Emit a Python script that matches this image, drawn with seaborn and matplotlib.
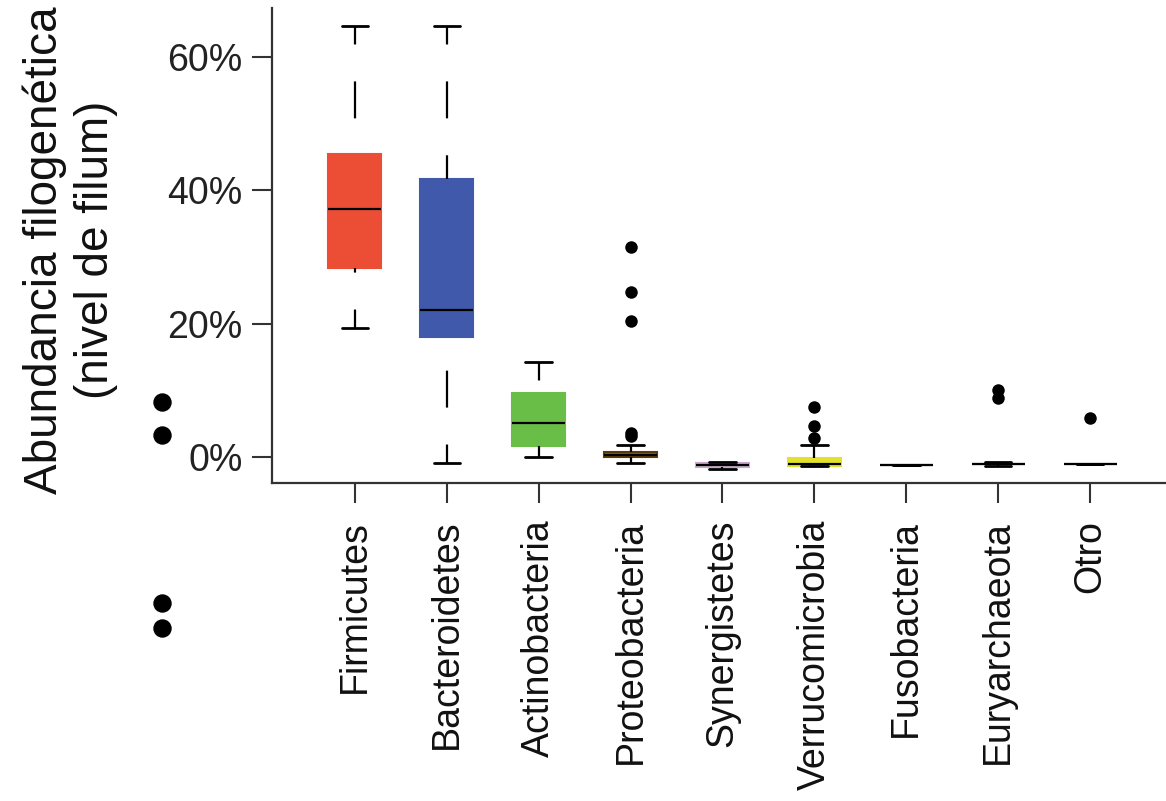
import numpy as np
import pandas as pd
import matplotlib
matplotlib.use("Agg")
import matplotlib.pyplot as plt
import seaborn as sns

# ---------------- data (values in %) ----------------
phyla = ["Firmicutes", "Bacteroidetes", "Actinobacteria", "Proteobacteria",
         "Synergistetes", "Verrucomicrobia", "Fusobacteria", "Euryarchaeota", "Otro"]
whisker_low = [19.3, -0.9, 0.0, -0.9, -1.8, -1.35, -1.2, -1.3, -1.05]
q1          = [28.3, 18.0, 1.7, 0.0, -1.5, -1.35, -1.2, -1.0, -1.05]
median      = [37.2, 22.1, 5.1, 0.3, -1.2, -1.05, -1.2, -1.0, -1.05]
q3          = [45.5, 41.7, 9.6, 0.75, -0.9, -0.15, -1.2, -1.0, -1.05]
whisker_high = [64.7, 64.7, 14.3, 1.8, -0.7, 1.8, -1.2, -0.7, -1.05]
outlier_phylum = ["Proteobacteria"] * 5 + ["Verrucomicrobia"] * 3 + ["Euryarchaeota"] * 2 + ["Otro"]
outlier_value = [31.5, 24.75, 20.4, 3.6, 3.1, 7.5, 4.6, 2.8, 10.0, 8.9, 5.8]
# stray points drawn left of the axis in the original
stray_x = [-2.1, -2.1, -2.1, -2.1]
stray_y = [8.2, 3.3, -21.9, -25.6]
yticks = [0, 20, 40, 60]
ytick_labels = ["0%", "20%", "40%", "60%"]

# ---------------- styles ----------------
face_colors = ["#EC4D35", "#4159AB", "#69BE48", "#8A6016", "#C9A8CC",
               "#E2E22C", "#5E6A6A", "#555555", "#6F7878"]
edge_colors = ["#EC4D35", "#4159AB", "#69BE48", "#5A3C0A", "#C9A8CC",
               "#E2E22C", "#4A5656", "#333333", "#5A6464"]

sns.set_style("ticks")
plt.rcParams["font.family"] = ["Liberation Sans", "DejaVu Sans"]
plt.rcParams["lines.scale_dashes"] = False

rows = []
for i, p in enumerate(phyla):
    for v in (whisker_low[i], q1[i], median[i], q3[i], whisker_high[i]):
        rows.append({"phylum": p, "value": v})
df = pd.DataFrame(rows)
out_df = pd.DataFrame({"phylum": outlier_phylum, "value": outlier_value})

fig = plt.figure(figsize=(11.66, 8.01), dpi=100)
ax = fig.add_axes([272 / 1166, 1 - 483 / 801, 1 - 272 / 1166, (483 - 8) / 801])

palette = dict(zip(phyla, face_colors))
sns.boxplot(data=df, x="phylum", y="value", hue="phylum", order=phyla,
            hue_order=phyla, palette=palette, legend=False, saturation=1,
            whis=(0, 100), width=0.577, fliersize=0, linecolor="black",
            linewidth=1.6, dodge=False, ax=ax,
            whiskerprops={"linestyle": (13.3, (26.6, 26.6)), "linewidth": 1.6, "color": "black"},
            capprops={"linewidth": 2.0, "color": "black"},
            medianprops={"linewidth": 1.6, "color": "black"},
            boxprops={"linewidth": 1.5})

# box edges take the box colour
for patch, fc, ec in zip(ax.patches, face_colors, edge_colors):
    patch.set_facecolor(fc)
    patch.set_edgecolor(ec)

# anchor whisker dash pattern at the cap end
for ln in ax.lines:
    if ln.get_linestyle() == "--":
        xd, yd = ln.get_data()
        ln.set_data(np.asarray(xd)[::-1], np.asarray(yd)[::-1])

sns.stripplot(data=out_df, x="phylum", y="value", order=phyla, jitter=False,
              color="black", size=9, ax=ax, zorder=5)

ax.scatter(stray_x, stray_y, s=150, color="black", clip_on=False, zorder=5)

ax.set_xlim(-0.903, 8.827)
ax.set_ylim(-3.9, 67.35)
ax.set_yticks(yticks)
ax.set_yticklabels(ytick_labels, fontsize=27, color="#222222")
ax.set_xticks(range(len(phyla)))
ax.set_xticklabels(phyla, rotation=90, fontsize=27, color="#111111")
ax.tick_params(axis="y", length=14.5, width=1.5, pad=6.5, colors="#333333", labelcolor="#222222")
ax.tick_params(axis="x", length=14.5, width=1.5, pad=12, colors="#333333", labelcolor="#111111")
ax.set_xlabel("")
ax.set_ylabel("")
sns.despine(ax=ax, top=True, right=True)
for s in ("left", "bottom"):
    ax.spines[s].set_linewidth(1.6)
    ax.spines[s].set_color("#333333")

fig.text(70 / 1166, 1 - 250 / 801, "Abundancia filogenética\n(nivel de filum)",
         rotation=90, ha="center", va="center", multialignment="center",
         fontsize=33, color="#111111")

fig.savefig("out.png", dpi=100)
